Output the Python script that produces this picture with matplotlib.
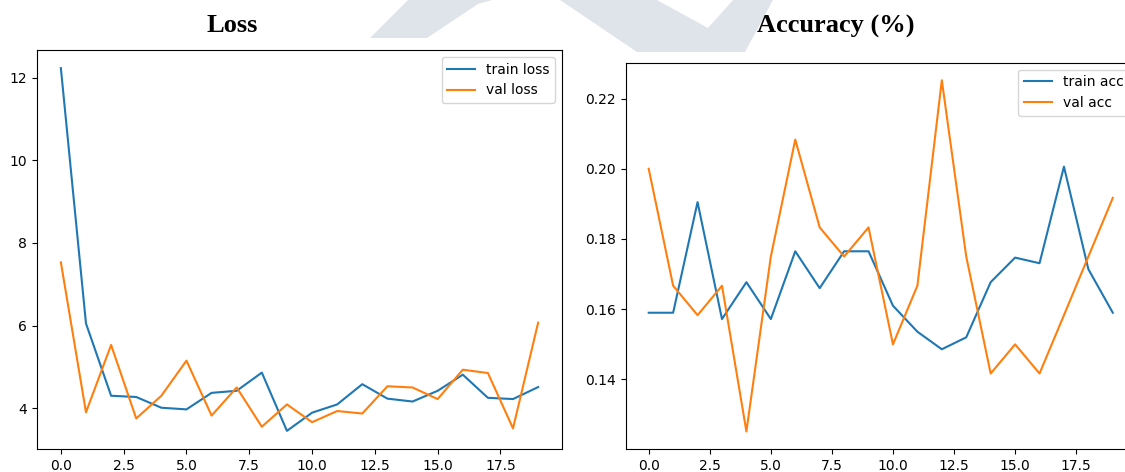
import matplotlib
matplotlib.use('Agg')
import matplotlib.pyplot as plt
from matplotlib.patches import Polygon

# Historial de entrenamiento (20 epocas)
epochs = list(range(20))
train_loss = [12.23, 6.05, 4.30, 4.27, 4.01, 3.97, 4.37, 4.42, 4.86, 3.45,
              3.89, 4.09, 4.58, 4.23, 4.16, 4.42, 4.81, 4.25, 4.22, 4.51]
val_loss = [7.53, 3.90, 5.53, 3.75, 4.30, 5.15, 3.82, 4.50, 3.55, 4.09,
            3.66, 3.93, 3.87, 4.53, 4.50, 4.22, 4.93, 4.85, 3.51, 6.07]
train_acc = [0.159, 0.159, 0.1905, 0.1572, 0.1677, 0.1572, 0.1765, 0.166, 0.1765, 0.1765,
             0.161, 0.1536, 0.1486, 0.152, 0.1677, 0.1747, 0.1731, 0.2006, 0.1714, 0.159]
val_acc = [0.2, 0.1667, 0.1583, 0.1667, 0.1252, 0.175, 0.2083, 0.1833, 0.175, 0.1833,
           0.15, 0.1667, 0.2252, 0.175, 0.1417, 0.15, 0.1417, 0.1583, 0.175, 0.1917]

W, H = 1125, 472
fig = plt.figure(figsize=(W / 100, H / 100), dpi=100)


def px_box(x0, y0, x1, y1):
    # caja en pixeles (origen arriba a la izquierda) -> fraccion de figura
    return [x0 / W, 1 - y1 / H, (x1 - x0) / W, (y1 - y0) / H]


def px_pts(pts):
    return [(x / W, 1 - y / H) for x, y in pts]


# marca de agua de fondo
wm = '#dfe4ea'
for pts in ([(370, 38), (427, 38), (478, 4), (492, 0), (408, 0)],
            [(560, 0), (657, 0), (708, 28), (733, 0), (773, 0), (745, 52), (637, 52)]):
    fig.patches.append(Polygon(px_pts(pts), closed=True, transform=fig.transFigure,
                               facecolor=wm, edgecolor='none', zorder=0))

ax1 = fig.add_axes(px_box(37, 50, 562, 449))
ax1.plot(epochs, train_loss, label='train loss')
ax1.plot(epochs, val_loss, label='val loss')
ax1.legend(loc='upper right')

ax2 = fig.add_axes(px_box(625.5, 62.7, 1136, 449))
ax2.plot(epochs, train_acc, label='train acc')
ax2.plot(epochs, val_acc, label='val acc')
ax2.legend(loc='upper right')

title_font = dict(family=['Liberation Serif', 'DejaVu Serif'], fontweight='bold',
                  fontsize=19, ha='center', va='baseline')
fig.text(232 / W, 1 - 32.3 / H, 'Loss', **title_font)
fig.text(836 / W, 1 - 32.7 / H, 'Accuracy (%)', **title_font)

fig.savefig('out.png', dpi=100)
